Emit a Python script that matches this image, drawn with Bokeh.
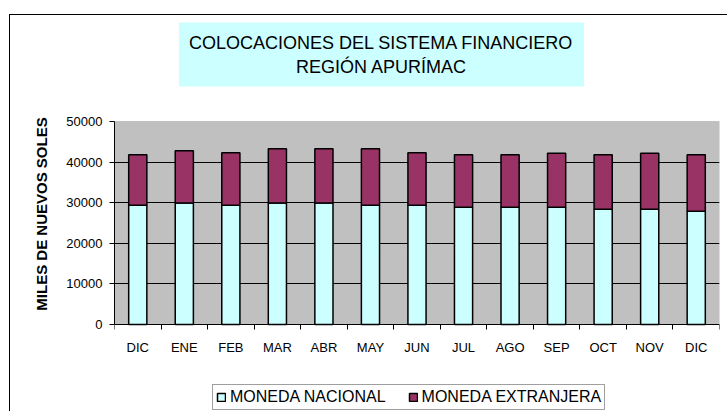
from bokeh.plotting import figure
from bokeh.models import (ColumnDataSource, Range1d, FixedTicker, Legend, LegendItem,
                          BoxAnnotation, Label)
from bokeh.embed import file_html
from bokeh.resources import INLINE

# ---- data ----
months = ["DIC", "ENE", "FEB", "MAR", "ABR", "MAY", "JUN", "JUL", "AGO", "SEP", "OCT", "NOV", "DIC"]
nacional = [29400, 29900, 29400, 29900, 29900, 29400, 29400, 28900, 28900, 28900, 28400, 28400, 27900]
extranjera = [12400, 12900, 12900, 13400, 13400, 13900, 12900, 12900, 12900, 13300, 13400, 13800, 13900]
series_names = ["MONEDA NACIONAL", "MONEDA EXTRANJERA"]
y_ticks = [0, 10000, 20000, 30000, 40000, 50000]
title_lines = ["COLOCACIONES DEL SISTEMA FINANCIERO", "REGIÓN APURÍMAC"]
y_title = "MILES DE NUEVOS SOLES"

FONT = "Liberation Sans"
positions = list(range(len(months)))
src = ColumnDataSource(dict(x=positions, nac=nacional, ext=extranjera))

# layout geometry (pixels): the frame spans the whole canvas height; the value
# axis 0..50000 occupies 203 px with 106 px above it and 88 px below it
W, H = 718, 397
AXIS_PX, ABOVE_PX, BELOW_PX = 203, 106, 88
y_max = y_ticks[-1]
per_px = y_max / AXIS_PX
y_range = Range1d(-BELOW_PX * per_px, y_max + ABOVE_PX * per_px)
x_range = Range1d(-0.5, len(months) - 0.5)

p = figure(width=W, height=H, output_backend="svg", toolbar_location=None,
           x_range=x_range, y_range=y_range,
           min_border_left=104, min_border_right=9, min_border_top=0, min_border_bottom=0,
           styles={"border-left": "1px solid black", "border-top": "1px solid black",
                   "margin-left": "9px", "margin-top": "14px"})
p.background_fill_color = "white"
p.border_fill_color = "white"
p.outline_line_color = None

# grey plot area
p.add_layout(BoxAnnotation(left=x_range.start, right=x_range.end, bottom=0, top=y_max,
                           fill_color="#C0C0C0", fill_alpha=1, line_color="#808080",
                           line_width=1, level="image"))

rs = p.vbar_stack(["nac", "ext"], x="x", width=0.39, source=src,
                  fill_color=["#CCFFFF", "#993366"], line_color="black", line_width=1.5)

# x axis fixed at zero
xa = p.xaxis[0]
xa.fixed_location = 0
xa.ticker = FixedTicker(ticks=positions, minor_ticks=[i - 0.5 for i in range(len(months) + 1)])
xa.major_label_overrides = {i: m for i, m in enumerate(months)}
xa.major_tick_out = 0
xa.major_tick_in = 0
xa.minor_tick_out = 5
xa.minor_tick_in = 0
xa.minor_tick_line_color = "black"
xa.axis_line_color = "black"
xa.major_label_standoff = 10
xa.major_label_text_font = FONT
xa.major_label_text_font_size = "13px"
xa.major_label_text_color = "black"

ya = p.yaxis[0]
ya.ticker = FixedTicker(ticks=y_ticks)
ya.bounds = (0, y_max)
ya.major_tick_out = 5
ya.major_tick_in = 0
ya.minor_tick_line_color = None
ya.axis_line_color = "black"
ya.major_tick_line_color = "black"
ya.major_label_standoff = 7
ya.major_label_text_font = FONT
ya.major_label_text_font_size = "13px"
ya.major_label_text_color = "black"
ya.axis_label = y_title
ya.axis_label_text_font = FONT
ya.axis_label_text_font_size = "15px"
ya.axis_label_text_font_style = "bold"
ya.axis_label_text_color = "black"
ya.axis_label_standoff = 13

p.xgrid.grid_line_color = None
p.ygrid.ticker = FixedTicker(ticks=y_ticks[1:-1])
p.ygrid.grid_line_color = "black"
p.ygrid.grid_line_width = 1

# title box with two centred lines
p.add_layout(Label(x=370, y=38, x_units="canvas", y_units="canvas",
                   text="\n".join(title_lines), text_align="center", text_baseline="middle",
                   text_font=FONT, text_font_size="18px", text_color="black",
                   background_fill_color="#CCFFFF", background_fill_alpha=1, padding=10))

legend = Legend(items=[LegendItem(label=series_names[0], renderers=[rs[0]]),
                       LegendItem(label=series_names[1], renderers=[rs[1]])],
                location=(98, 2), orientation="horizontal",
                label_text_font=FONT, label_text_font_size="16px", label_text_color="black",
                glyph_width=10, glyph_height=10, label_standoff=4, spacing=22,
                padding=3, border_line_color="#404040", border_line_width=1,
                background_fill_color="white", background_fill_alpha=1)
p.add_layout(legend, "center")

open("out.html", "w").write(file_html(p, INLINE))
